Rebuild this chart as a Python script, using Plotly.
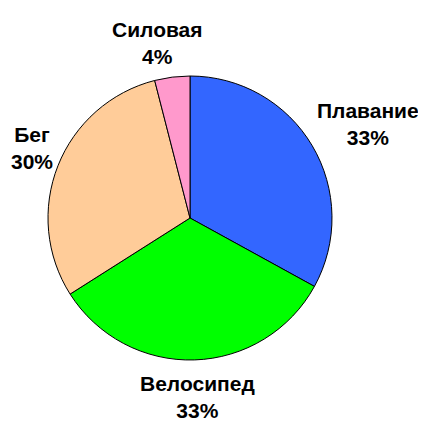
import plotly.graph_objects as go

labels = ["Плавание", "Велосипед", "Бег", "Силовая"]
values = [33, 33, 30, 4]
colors = ["#3366FF", "#00FF00", "#FFCC99", "#FF99CC"]

# page has an 8px body margin; positions are in figure pixels
OFF = 8
label_pos = [(368, 124), (197, 396.5), (32, 148.5), (157, 43)]

W, H = 426, 443
cx, cy, r = 190 - OFF, 218 - OFF, 142

fig = go.Figure(go.Pie(
    labels=labels,
    values=values,
    sort=False,
    direction="clockwise",
    rotation=0,
    marker=dict(colors=colors, line=dict(color="black", width=1)),
    textinfo="none",
    hoverinfo="label+percent",
    showlegend=False,
    domain=dict(x=[(cx - r) / W, (cx + r) / W], y=[(H - cy - r) / H, (H - cy + r) / H]),
))

total = sum(values)
for lab, v, (px, py) in zip(labels, values, label_pos):
    fig.add_annotation(
        x=(px - OFF) / W, y=(H - (py - OFF)) / H, xref="paper", yref="paper",
        xanchor="center", yanchor="middle", showarrow=False,
        text=f"<b>{lab}<br>{round(100 * v / total)}%</b>",
        font=dict(family="Liberation Sans, Arial, sans-serif", size=21, color="black"),
        align="center",
    )

fig.update_layout(
    width=W, height=H,
    margin=dict(l=0, r=0, t=0, b=0),
    paper_bgcolor="white", plot_bgcolor="white",
)

fig.write_html("out.html")
